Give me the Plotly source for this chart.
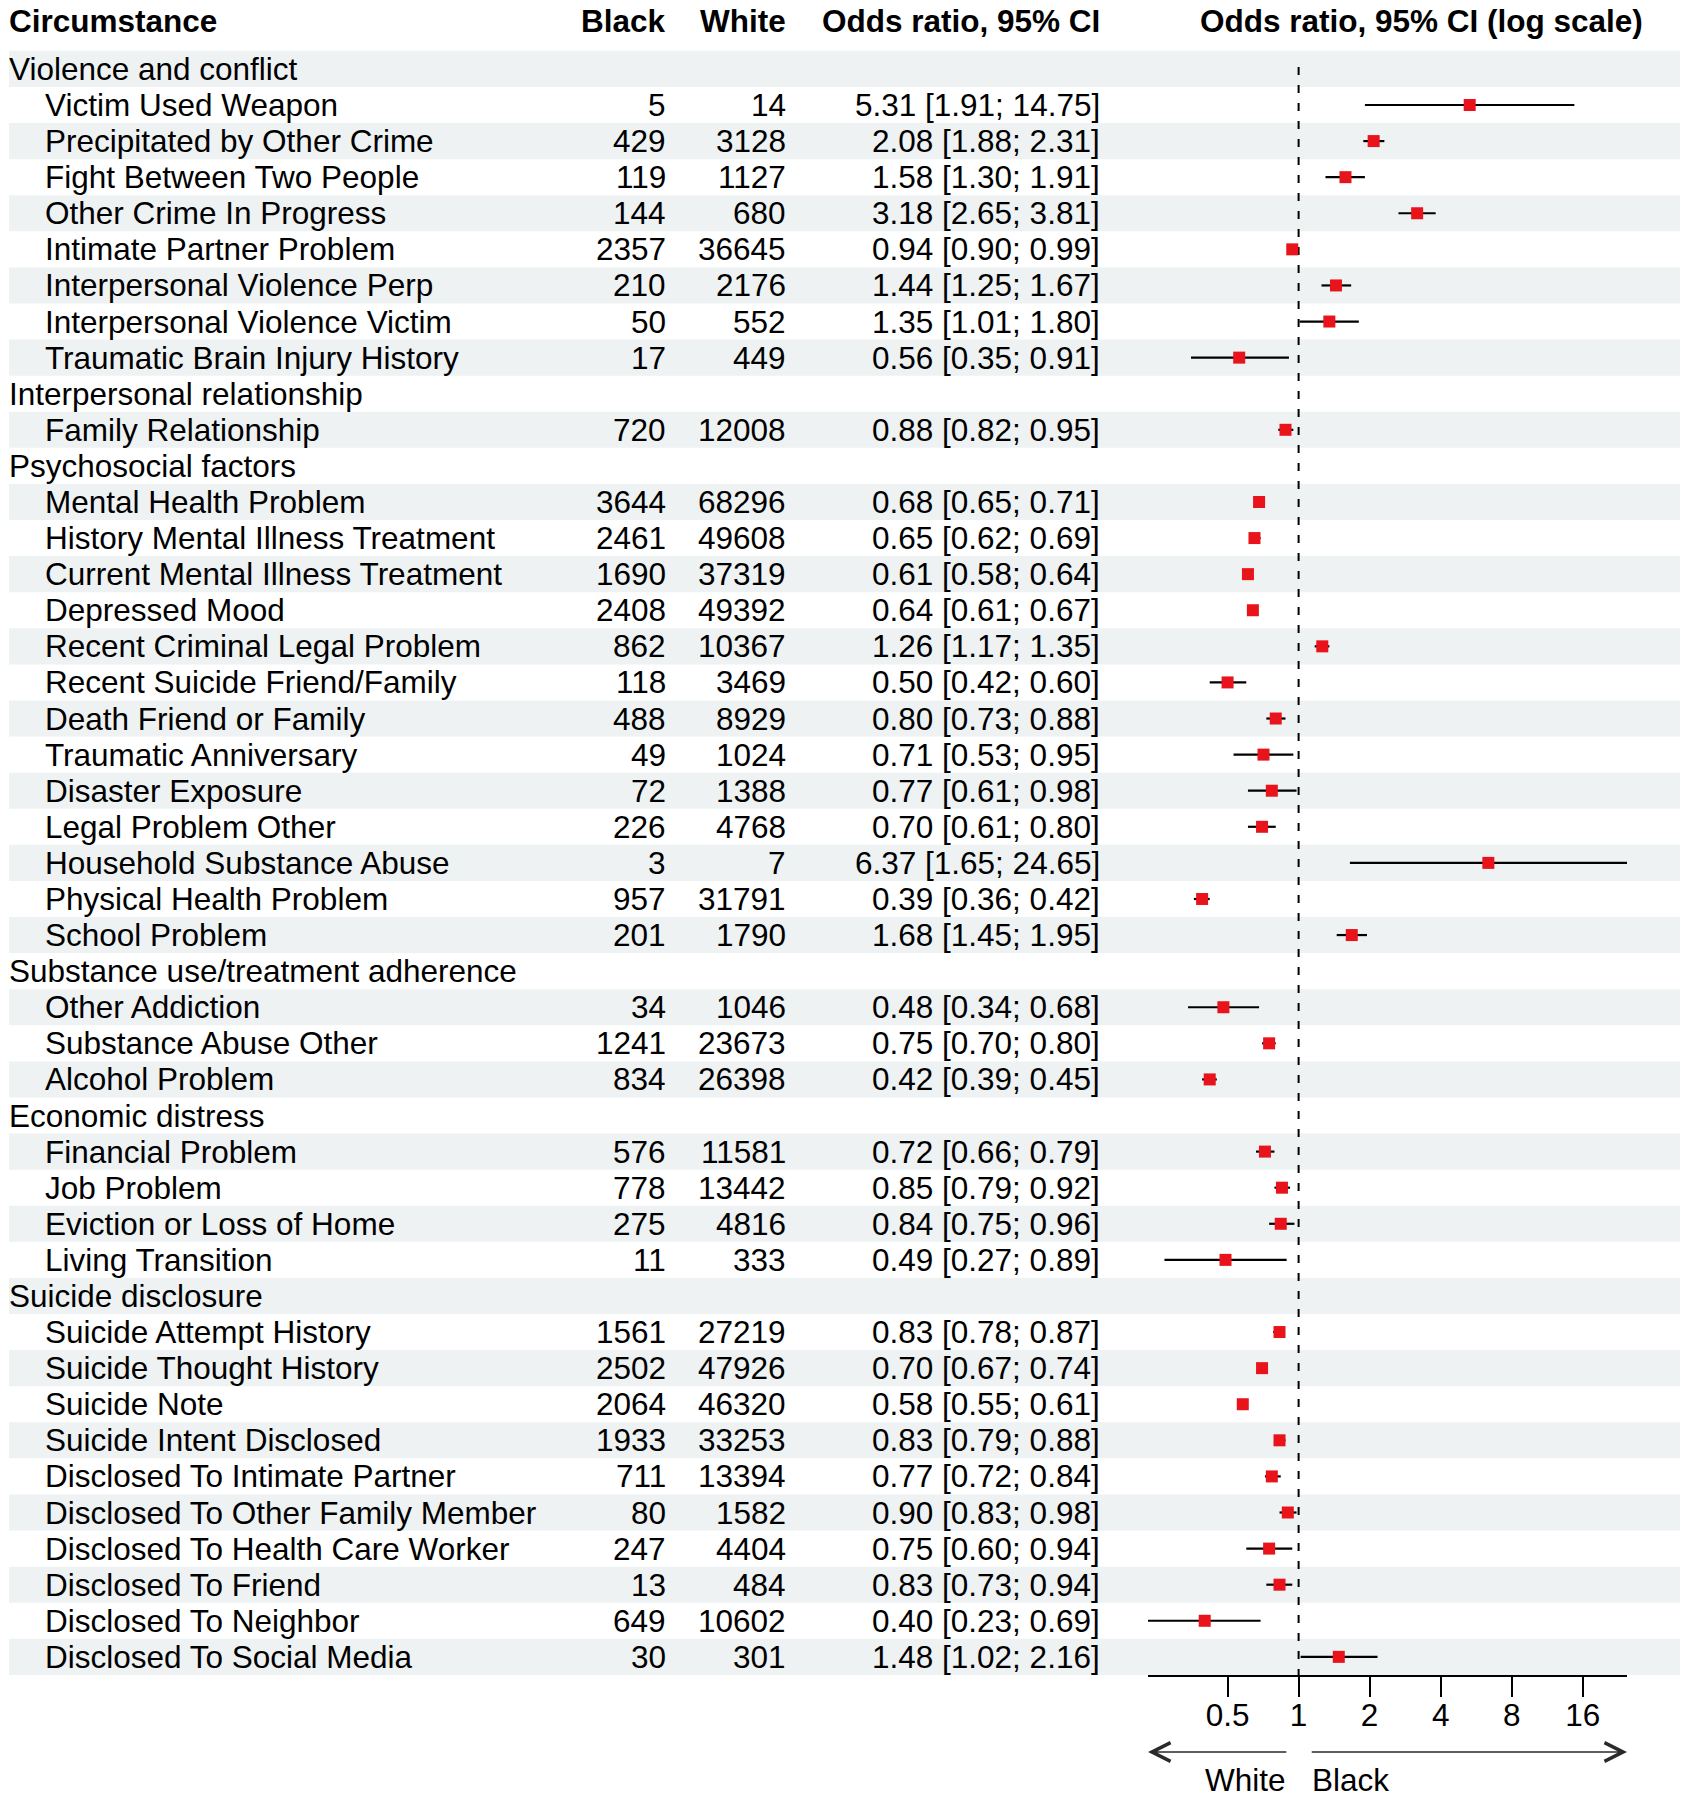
import math
import plotly.graph_objects as go

# ---------------- data ----------------
groups = ["Violence and conflict", "Interpersonal relationship", "Psychosocial factors",
          "Substance use/treatment adherence", "Economic distress", "Suicide disclosure"]
group_sizes = [8, 1, 13, 3, 4, 10]

circumstances = [
    "Victim Used Weapon", "Precipitated by Other Crime", "Fight Between Two People",
    "Other Crime In Progress", "Intimate Partner Problem", "Interpersonal Violence Perp",
    "Interpersonal Violence Victim", "Traumatic Brain Injury History",
    "Family Relationship",
    "Mental Health Problem", "History Mental Illness Treatment", "Current Mental Illness Treatment",
    "Depressed Mood", "Recent Criminal Legal Problem", "Recent Suicide Friend/Family",
    "Death Friend or Family", "Traumatic Anniversary", "Disaster Exposure", "Legal Problem Other",
    "Household Substance Abuse", "Physical Health Problem", "School Problem",
    "Other Addiction", "Substance Abuse Other", "Alcohol Problem",
    "Financial Problem", "Job Problem", "Eviction or Loss of Home", "Living Transition",
    "Suicide Attempt History", "Suicide Thought History", "Suicide Note", "Suicide Intent Disclosed",
    "Disclosed To Intimate Partner", "Disclosed To Other Family Member",
    "Disclosed To Health Care Worker", "Disclosed To Friend", "Disclosed To Neighbor",
    "Disclosed To Social Media",
]
black_n = [5, 429, 119, 144, 2357, 210, 50, 17,
           720,
           3644, 2461, 1690, 2408, 862, 118, 488, 49, 72, 226, 3, 957, 201,
           34, 1241, 834,
           576, 778, 275, 11,
           1561, 2502, 2064, 1933, 711, 80, 247, 13, 649, 30]
white_n = [14, 3128, 1127, 680, 36645, 2176, 552, 449,
           12008,
           68296, 49608, 37319, 49392, 10367, 3469, 8929, 1024, 1388, 4768, 7, 31791, 1790,
           1046, 23673, 26398,
           11581, 13442, 4816, 333,
           27219, 47926, 46320, 33253, 13394, 1582, 4404, 484, 10602, 301]
or_est = [5.31, 2.08, 1.58, 3.18, 0.94, 1.44, 1.35, 0.56,
          0.88,
          0.68, 0.65, 0.61, 0.64, 1.26, 0.50, 0.80, 0.71, 0.77, 0.70, 6.37, 0.39, 1.68,
          0.48, 0.75, 0.42,
          0.72, 0.85, 0.84, 0.49,
          0.83, 0.70, 0.58, 0.83, 0.77, 0.90, 0.75, 0.83, 0.40, 1.48]
ci_low = [1.91, 1.88, 1.30, 2.65, 0.90, 1.25, 1.01, 0.35,
          0.82,
          0.65, 0.62, 0.58, 0.61, 1.17, 0.42, 0.73, 0.53, 0.61, 0.61, 1.65, 0.36, 1.45,
          0.34, 0.70, 0.39,
          0.66, 0.79, 0.75, 0.27,
          0.78, 0.67, 0.55, 0.79, 0.72, 0.83, 0.60, 0.73, 0.23, 1.02]
ci_high = [14.75, 2.31, 1.91, 3.81, 0.99, 1.67, 1.80, 0.91,
           0.95,
           0.71, 0.69, 0.64, 0.67, 1.35, 0.60, 0.88, 0.95, 0.98, 0.80, 24.65, 0.42, 1.95,
           0.68, 0.80, 0.45,
           0.79, 0.92, 0.96, 0.89,
           0.87, 0.74, 0.61, 0.88, 0.84, 0.98, 0.94, 0.94, 0.69, 2.16]

tick_vals = [0.5, 1, 2, 4, 8, 16]
tick_text = ["0.5", "1", "2", "4", "8", "16"]
headers = ["Circumstance", "Black", "White", "Odds ratio, 95% CI", "Odds ratio, 95% CI (log scale)"]
direction_labels = ["White", "Black"]

# ---------------- layout helpers ----------------
W, H = 1690, 1800
FONT = "Liberation Sans, Arial, Helvetica, sans-serif"
FS = 31.5
row_px = 36.09
first_px = 68.9
y_top = 1 - first_px / row_px
y_bot = y_top + H / row_px

def yv(px):
    return y_top + px / row_px

# assign rows
group_rows, item_rows = [], []
r = 1
for g, n in zip(groups, group_sizes):
    group_rows.append(r)
    r += 1
    for _ in range(n):
        item_rows.append(r)
        r += 1
n_rows = r - 1

fig = go.Figure()

shapes = []
for rr in range(1, n_rows + 1, 2):
    shapes.append(dict(type="rect", xref="paper", yref="y", x0=9 / W, x1=1680 / W,
                       y0=rr - 0.5, y1=rr + 0.5, fillcolor="#eef2f3", line=dict(width=0),
                       layer="below"))
axis_y = yv(1676)
shapes.append(dict(type="line", xref="x", yref="y", x0=1, x1=1, y0=0.95, y1=axis_y,
                   line=dict(color="black", width=2, dash="8px,10px"), layer="below"))

# CI lines
cx, cy = [], []
for lo, hi, rr in zip(ci_low, ci_high, item_rows):
    cx += [lo, hi, None]
    cy += [rr, rr, None]
fig.add_trace(go.Scatter(x=cx, y=cy, mode="lines", line=dict(color="black", width=2.2),
                         hoverinfo="skip", showlegend=False, cliponaxis=False))
fig.add_trace(go.Scatter(x=or_est, y=item_rows, mode="markers",
                         marker=dict(symbol="square", size=12, color="#e8131b"),
                         showlegend=False, cliponaxis=False))

ann = []
def txt(x, y, s, anchor, bold=False):
    ann.append(dict(x=x / W, y=y, xref="paper", yref="y", text=("<b>%s</b>" % s) if bold else s,
                    showarrow=False, xanchor=anchor, yanchor="middle",
                    font=dict(family=FONT, size=FS, color="black")))

hy = yv(20.7)
txt(7, hy, headers[0], "left", True)
txt(668, hy, headers[1], "right", True)
txt(788, hy, headers[2], "right", True)
txt(1102, hy, headers[3], "right", True)
txt(1421, hy, headers[4], "center", True)

for g, rr in zip(groups, group_rows):
    txt(7, rr, g, "left")
for i, rr in enumerate(item_rows):
    txt(43, rr, circumstances[i], "left")
    txt(668, rr, str(black_n[i]), "right")
    txt(788, rr, str(white_n[i]), "right")
    txt(1102, rr, "%.2f [%.2f; %.2f]" % (or_est[i], ci_low[i], ci_high[i]), "right")

# direction arrows + labels (annotation coords on a log axis are log10 values)
arr_y = yv(1752)
lab_y = yv(1780)
xmin, xmax = min(ci_low), max(ci_high)
tail_w, tail_b = 0.9, 1.12
for head, tail in [(xmin, tail_w), (xmax, tail_b)]:
    ann.append(dict(x=math.log10(head), y=arr_y, xref="x", yref="y",
                    ax=math.log10(tail), ay=arr_y, axref="x", ayref="y",
                    text="", showarrow=True, arrowhead=5, arrowsize=2.8, arrowwidth=1.3,
                    arrowcolor="#2a2a2a", standoff=0, startstandoff=0))
ann.append(dict(x=math.log10(tail_w), y=lab_y, xref="x", yref="y", text=direction_labels[0],
                showarrow=False, xanchor="right", yanchor="middle",
                font=dict(family=FONT, size=FS, color="black")))
ann.append(dict(x=math.log10(tail_b), y=lab_y, xref="x", yref="y", text=direction_labels[1],
                showarrow=False, xanchor="left", yanchor="middle",
                font=dict(family=FONT, size=FS, color="black")))

fig.update_layout(
    width=W, height=H, autosize=False,
    margin=dict(l=0, r=0, t=0, b=0, pad=0),
    paper_bgcolor="white", plot_bgcolor="rgba(0,0,0,0)",
    shapes=shapes, annotations=ann,
    xaxis=dict(type="log", domain=[1148 / W, 1627 / W],
               range=[math.log10(xmin), math.log10(xmax)],
               anchor="free", position=(H - 1676) / H,
               showline=True, linecolor="black", linewidth=2,
               ticks="outside", ticklen=20, tickwidth=2, tickcolor="black",
               ticklabelstandoff=-9,
               tickvals=tick_vals, ticktext=tick_text, showgrid=False, zeroline=False,
               tickfont=dict(family=FONT, size=FS, color="black")),
    yaxis=dict(range=[y_bot, y_top], domain=[0, 1], visible=False, showgrid=False,
               zeroline=False, fixedrange=True),
    showlegend=False,
)

fig.write_html("out.html", config={"displayModeBar": False},
               post_script="document.body.style.margin='0px';")
